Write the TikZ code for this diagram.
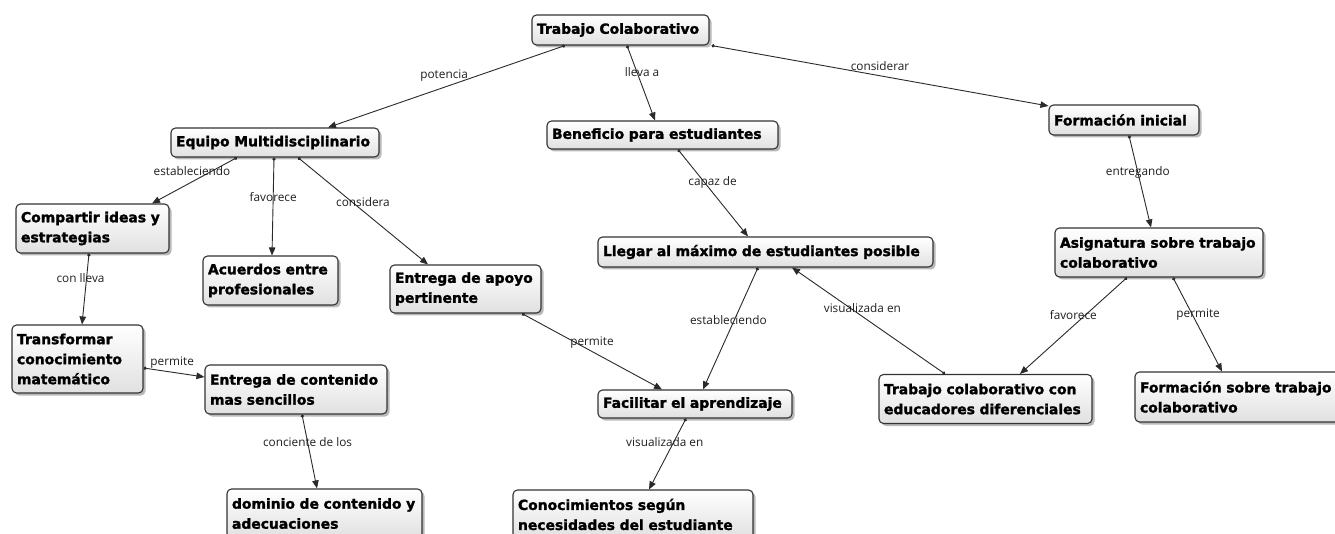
\documentclass[tikz,border=0pt]{standalone}
\usepackage{fontspec}
\usetikzlibrary{arrows.meta,shadows,calc}
\newfontfamily\boxfont[BoldFeatures={FakeBold=1.6}]{DejaVu Sans}
\newfontfamily\lblfont{Open Sans}
\definecolor{lnk}{HTML}{2A2A2A}
\tikzset{
  cbox/.style={draw=black!80, line width=1.1pt, rounded corners=4.5pt,
    top color=white, bottom color=black!12,
    drop shadow={shadow xshift=2.5pt, shadow yshift=-2.5pt, opacity=0.55},
    font=\boxfont\bfseries\fontsize{13.9}{20}\selectfont, align=left,
    inner xsep=5pt, inner ysep=2pt, anchor=center},
  conn/.style={draw=lnk, line width=0.9pt, {Circle[length=3.2pt]}-{Triangle[length=8pt,width=6.5pt]}},
  lbl/.style={font=\lblfont\fontsize{11.8}{13}\selectfont, text=black!88, inner sep=0pt}
}
\begin{document}
\begin{tikzpicture}[x=1pt,y=-1pt]
\useasboundingbox[fill=white] (0,0) rectangle (1335,534);
% nodes
\node[cbox, minimum height=30pt, text width=167pt] (tc) at (620.5,30) {Trabajo Colaborativo};
\node[cbox, minimum height=29pt, text width=198pt] (em) at (275,142.5) {Equipo Multidisciplinario};
\node[cbox, minimum height=28pt, text width=221pt] (bp) at (662.5,135) {Beneficio para estudiantes};
\node[cbox, minimum height=30pt, text width=140pt] (fi) at (1124,120) {Formación inicial};
\node[cbox, minimum height=49pt, text width=143pt] (ci) at (92.5,228.5) {Compartir ideas y\\estrategias};
\node[cbox, minimum height=49pt, text width=125pt] (ac) at (270.5,280.5) {Acuerdos entre\\profesionales};
\node[cbox, minimum height=48pt, text width=141pt] (ap) at (465.5,289) {Entrega de apoyo\\pertinente};
\node[cbox, minimum height=30pt, text width=325pt] (ll) at (765.5,252) {Llegar al máximo de estudiantes posible};
\node[cbox, minimum height=49pt, text width=198pt] (as) at (1159,252.5) {Asignatura sobre trabajo\\colaborativo};
\node[cbox, minimum height=68pt, text width=121pt] (tr) at (77.5,359) {Transformar\\conocimiento\\matemático};
\node[cbox, minimum height=49pt, text width=172pt] (ec) at (296,389.5) {Entrega de contenido\\mas sencillos};
\node[cbox, minimum height=49pt, text width=185pt] (do) at (324.5,513.5) {dominio de contenido y\\adecuaciones};
\node[cbox, minimum height=28pt, text width=184pt] (fa) at (695,404) {Facilitar el aprendizaje};
\node[cbox, minimum height=49pt, text width=230pt] (cn) at (633,514.5) {Conocimientos según\\necesidades del estudiante};
\node[cbox, minimum height=49pt, text width=203pt] (te) at (985.5,399) {Trabajo colaborativo con\\educadores diferenciales};
\node[cbox, minimum height=50pt, text width=200pt] (fs) at (1240,397) {Formación sobre trabajo\\colaborativo};
% connectors
\draw[conn] ([xshift=-55.5pt]tc.south) -- node[lbl, pos=.51, yshift=12pt] (l1) {potencia} ([xshift=53pt]em.north);
\draw[conn] ([xshift=6.5pt]tc.south) -- node[lbl, pos=.36, xshift=5pt] (l2) {lleva a} ([xshift=-7.5pt]bp.north);
\draw[conn] ([xshift=2pt]tc.south east) -- node[lbl, pos=.5, yshift=10pt] (l3) {considerar} ([yshift=14pt]fi.west);
\draw[conn] ([xshift=-38pt]em.south) -- node[lbl, pos=.53, yshift=11pt] (l4) {estableciendo} ([xshift=59.5pt]ci.north);
\draw[conn] ([xshift=-1pt]em.south) -- node[lbl, pos=.4] (l5) {favorece} ([xshift=1.5pt]ac.north);
\draw[conn] ([xshift=23pt]em.south) -- node[lbl, pos=.5, yshift=9pt] (l6) {considera} ([xshift=-37.5pt]ap.north);
\draw[conn] ([xshift=-3.5pt]ci.south) -- node[lbl, pos=.35, xshift=-6pt] (l7) {con lleva} ([xshift=4.5pt]tr.north);
\draw[conn] ([yshift=-9pt]tr.east) -- node[lbl, pos=.47, yshift=10pt] (l8) {permite} ([yshift=12.5pt]ec.west);
\draw[conn] ([xshift=6pt]ec.south) -- node[lbl, pos=.37] (l9) {conciente de los} ([xshift=-7.5pt]do.north);
\draw[conn] ([xshift=15.5pt]bp.south) -- node[lbl, pos=.38, xshift=8pt] (l10) {capaz de} ([xshift=-17.5pt]ll.north);
\draw[conn] ([xshift=56.5pt]ap.south) -- node[lbl, pos=.5, yshift=9pt] (l11) {permite} ([xshift=-33pt]fa.north);
\draw[conn] ([xshift=-7.5pt]ll.south) -- node[lbl, pos=.43, xshift=-6pt] (l12) {estableciendo} ([xshift=8pt]fa.north);
\draw[conn] ([xshift=-40.5pt]te.north) -- node[lbl, pos=.54, yshift=8pt] (l13) {visualizada en} ([xshift=26.5pt]ll.south);
\draw[conn] ([xshift=-9pt]fa.south) -- node[lbl, pos=.33, xshift=-9pt] (l14) {visualizada en} ([xshift=16pt]cn.north);
\draw[conn] ([xshift=5pt]fi.south) -- node[lbl, pos=.4] (l15) {entregando} ([xshift=-8pt]as.north);
\draw[conn] ([xshift=-32pt]as.south) -- node[lbl, pos=.39, xshift=-12pt] (l16) {favorece} ([xshift=34.5pt]te.north);
\draw[conn] ([xshift=14pt]as.south) -- node[lbl, pos=.39, xshift=6pt] (l17) {permite} ([xshift=-18pt]fs.north);
\end{tikzpicture}
\end{document}
